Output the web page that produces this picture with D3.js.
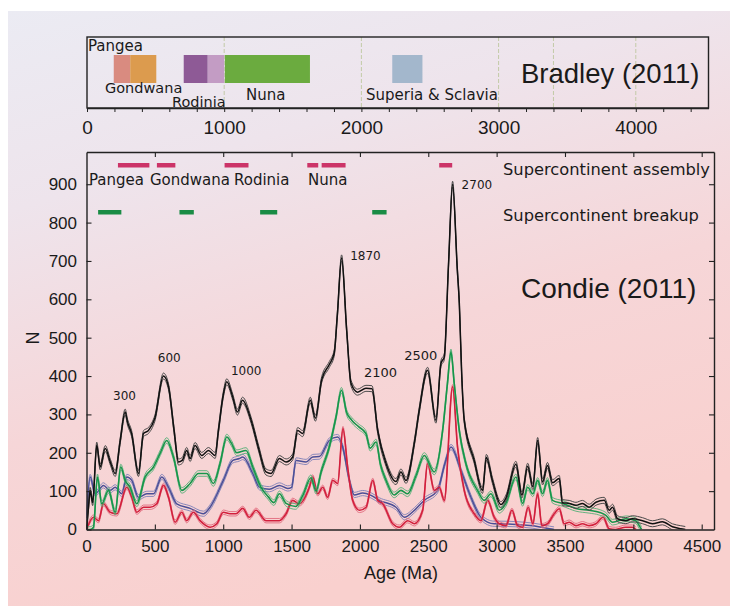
<!DOCTYPE html>
<html><head><meta charset="utf-8">
<script src="https://cdn.jsdelivr.net/npm/d3@7"></script>
<style>
html,body{margin:0;padding:0;background:#fff;}
svg{display:block;}
text{font-family:"Liberation Sans",Arial,Helvetica,sans-serif;fill:#1a1a1a;}
.wide{font-family:"DejaVu Sans",sans-serif;}
</style></head><body>
<svg id="chart" width="730" height="606"></svg>
<script>
// ---------------- DATA ----------------
const xTickValues = [0,500,1000,1500,2000,2500,3000,3500,4000,4500];
const yTickValues = [0,100,200,300,400,500,600,700,800,900];
const topTickLabels = [0,1000,2000,3000,4000];
const topGuideAges = [1000,2000,3000,3400,4000];

const bradleySegStart = [195,315,705,880,1005,2225];
const bradleySegEnd   = [315,505,880,1000,1625,2445];
const bradleyLabels = ["Pangea","Gondwana","Rodinia","Nuna","Superia & Sclavia"];

const assemblyStart = [230,515,1010,1615,1720,2580];
const assemblyEnd   = [460,650,1185,1695,1895,2675];
const breakupStart  = [85,680,1270,2090];
const breakupEnd    = [255,785,1395,2195];
const condieLabels  = ["Pangea","Gondwana","Rodinia","Nuna"];

const peakLabels = ["300","600","1000","1870","2100","2500","2700"];
const peakAges   = [300,600,1000,1870,2100,2500,2700];

// [age (Ma), N]
const totalSeries = [[0,0],[15,60],[27,102],[45,70],[75,220],[100,163],[137,211],[175,175],[210,146],[246,230],[283,306],[300,280],[330,250],[380,146],[417,250],[453,258],[500,290],[563,400],[600,372],[640,260],[673,176],[700,180],[733,206],[758,185],[794,219],[843,193],[892,206],[941,193],[965,258],[1000,350],[1026,385],[1070,345],[1104,306],[1141,337],[1204,285],[1260,210],[1313,150],[1350,146],[1411,185],[1460,176],[1508,189],[1545,258],[1581,250],[1637,337],[1674,290],[1720,390],[1776,430],[1812,460],[1835,560],[1866,708],[1903,520],[1935,381],[1983,358],[2044,368],[2088,367],[2130,258],[2191,172],[2264,125],[2300,150],[2337,128],[2400,230],[2434,311],[2495,415],[2556,285],[2593,433],[2617,450],[2648,690],[2678,900],[2712,680],[2727,590],[2745,400],[2763,285],[2836,180],[2897,102],[2925,188],[2969,128],[3031,65],[3068,82],[3141,170],[3185,90],[3227,165],[3265,112],[3300,232],[3336,124],[3372,167],[3409,122],[3458,133],[3482,70],[3531,68],[3580,63],[3628,68],[3677,58],[3726,71],[3787,76],[3823,50],[3848,58],[3884,28],[3945,23],[3993,28],[4067,23],[4140,15],[4213,20],[4286,7],[4347,2],[4380,0]];

const greenSeries = [[0,0],[27,0],[51,6],[80,137],[112,67],[161,102],[210,45],[251,163],[283,128],[319,110],[368,67],[429,137],[490,163],[540,200],[587,232],[636,189],[697,102],[758,120],[819,146],[880,146],[928,120],[977,172],[1026,241],[1060,225],[1099,200],[1167,206],[1216,163],[1277,110],[1330,85],[1370,70],[1411,93],[1460,68],[1530,60],[1581,88],[1642,135],[1679,100],[1716,150],[1776,215],[1825,293],[1865,363],[1903,305],[1940,285],[1990,268],[2044,250],[2075,212],[2118,228],[2150,170],[2191,128],[2251,90],[2300,102],[2349,93],[2410,140],[2471,193],[2544,150],[2605,258],[2640,380],[2666,463],[2690,380],[2727,258],[2775,172],[2860,102],[2909,76],[2958,93],[3019,50],[3068,68],[3141,137],[3190,68],[3227,110],[3265,93],[3300,128],[3336,93],[3372,128],[3409,76],[3482,68],[3580,55],[3677,50],[3750,45],[3799,37],[3848,19],[3945,28],[4018,23],[4043,10],[4060,0]];

const blueSeries = [[0,30],[27,137],[63,93],[124,115],[173,102],[210,110],[258,93],[295,137],[331,128],[380,84],[441,93],[490,93],[551,137],[600,110],[660,67],[758,55],[855,41],[904,58],[1001,128],[1070,180],[1118,185],[1143,189],[1216,146],[1265,110],[1338,105],[1411,115],[1472,107],[1500,110],[1533,180],[1606,176],[1655,189],[1703,190],[1776,232],[1837,241],[1874,215],[1923,128],[1959,90],[2020,95],[2081,89],[2142,76],[2264,58],[2325,32],[2398,50],[2471,76],[2568,102],[2620,170],[2666,215],[2739,154],[2812,84],[2885,32],[2982,15],[3019,15],[3265,10],[3387,2],[3420,0]];

const redSeries = [[0,0],[51,32],[88,23],[124,67],[173,45],[222,41],[295,110],[331,84],[368,45],[417,58],[465,58],[514,67],[563,115],[600,84],[648,19],[697,45],[733,23],[782,45],[831,23],[904,6],[953,15],[1001,45],[1050,41],[1094,41],[1143,55],[1191,32],[1240,50],[1313,23],[1411,23],[1460,41],[1508,76],[1557,67],[1630,110],[1655,137],[1691,93],[1728,110],[1764,84],[1801,128],[1837,120],[1876,263],[1910,163],[1947,76],[1996,50],[2045,58],[2094,128],[2130,76],[2167,67],[2240,15],[2288,6],[2349,23],[2398,15],[2459,50],[2495,172],[2544,102],[2580,110],[2617,76],[2678,372],[2714,215],[2763,102],[2836,41],[2885,23],[2934,76],[2982,32],[3019,15],[3068,10],[3112,50],[3153,10],[3190,6],[3231,58],[3265,15],[3300,93],[3331,10],[3372,15],[3421,41],[3458,54],[3494,15],[3531,19],[3580,10],[3628,15],[3677,10],[3726,15],[3779,32],[3823,2],[3870,0],[3945,6],[3993,6],[4020,0]];

// ---------------- STYLE / LAYOUT ----------------
const bradleyColors = ["#d98b80","#dc9b4e","#8e5a96","#c39cc4","#6bab3f","#a3b7cc"];
const svg = d3.select("#chart");
const defs = svg.append("defs");
const grad = defs.append("linearGradient").attr("id","bg")
  .attr("x1","0").attr("y1","0").attr("x2","0.35").attr("y2","1");
[["0","#ebebf3"],["0.3","#eee4ec"],["0.65","#f6d6d8"],["1","#f9d0ce"]].forEach(s=>
  grad.append("stop").attr("offset",s[0]).attr("stop-color",s[1]));
svg.append("rect").attr("x",8).attr("y",11).attr("width",722).attr("height",595).attr("fill","url(#bg)");

// ---------- Top panel (Bradley) ----------
const xTop = d3.scaleLinear().domain([0,4530]).range([87,708.5]);
const topY0 = 37, topY1 = 108;
const topG = svg.append("g");
topG.selectAll("line.guide").data(topGuideAges).join("line")
  .attr("x1",d=>xTop(d)).attr("x2",d=>xTop(d)).attr("y1",topY0).attr("y2",topY1)
  .attr("stroke","#bcc69c").attr("stroke-width",1).attr("stroke-dasharray","4,2").attr("opacity",0.85);
topG.selectAll("rect.seg").data(d3.range(bradleySegStart.length)).join("rect")
  .attr("x",i=>xTop(bradleySegStart[i])).attr("width",i=>xTop(bradleySegEnd[i])-xTop(bradleySegStart[i]))
  .attr("y",55).attr("height",28).attr("fill",i=>bradleyColors[i]);
topG.append("rect").attr("x",87).attr("y",topY0).attr("width",621.5).attr("height",topY1-topY0)
  .attr("fill","none").attr("stroke","#222").attr("stroke-width",1.4);
const topAxis = topG.append("g").attr("transform",`translate(0,${topY1})`)
  .call(d3.axisBottom(xTop).tickValues(d3.range(0,4401,200)).tickSize(4).tickSizeOuter(0).tickPadding(9)
    .tickFormat(d=>topTickLabels.includes(d)?String(d):""));
topAxis.select(".domain").attr("stroke","#222").attr("stroke-width",1.4);
topAxis.selectAll(".tick line").attr("stroke","#222");
topAxis.selectAll("text").style("font-size","19px").attr("fill","#1a1a1a");

const bradleyLabelPos = [[88,51],[105,93],[172,107],[246,100],[366,100]];
const bradleyLabelSize = [15,14.5,14.5,15,15];
topG.selectAll("text.bl").data(bradleyLabels).join("text").attr("class","wide")
  .attr("x",(d,i)=>bradleyLabelPos[i][0]).attr("y",(d,i)=>bradleyLabelPos[i][1])
  .style("font-size",(d,i)=>bradleyLabelSize[i]+"px").text(d=>d);
topG.append("text").attr("x",521).attr("y",83).style("font-size","27.5px").text("Bradley (2011)");

// ---------- Main panel (Condie) ----------
const x = d3.scaleLinear().domain([0,4590]).range([86.5,714]);
const y = d3.scaleLinear().domain([0,984]).range([529.5,152]);
const main = svg.append("g");
defs.append("clipPath").attr("id","clip").append("rect")
  .attr("x",x(0)).attr("y",y(984)).attr("width",x(4590)-x(0)).attr("height",y(0)-y(984));

const line = d3.line().x(d=>x(d[0])).y(d=>y(Math.max(0,d[1]))).curve(d3.curveMonotoneX);
function drawSeries(data, outer, center, off, ow, cw){
  const g = main.append("g").attr("clip-path","url(#clip)");
  [-off, off].forEach(o=> g.append("path").datum(data).attr("d",line)
     .attr("transform",`translate(0,${o})`).attr("fill","none")
     .attr("stroke",outer).attr("stroke-width",ow).attr("stroke-linejoin","round"));
  g.append("path").datum(data).attr("d",line).attr("fill","none")
    .attr("stroke",center).attr("stroke-width",cw).attr("stroke-linejoin","round");
}
drawSeries(blueSeries,"#7e80b8","#4b4f97",2.6,0.9,1.5);
drawSeries(redSeries,"#e26a7e","#d21f3c",2.2,0.9,1.6);
drawSeries(greenSeries,"#55b077","#16964a",2.8,0.9,1.6);
drawSeries(totalSeries,"#4a4a4a","#111",3,1,1.5);

// axes
const fmt = d3.format("d");
const axB = main.append("g").attr("transform",`translate(0,${y(0)})`)
  .call(d3.axisBottom(x).tickValues(xTickValues).tickSizeInner(-5).tickSizeOuter(0).tickPadding(10.5).tickFormat(fmt));
const axT = main.append("g").attr("transform",`translate(0,${y(984)})`)
  .call(d3.axisTop(x).tickValues(xTickValues.slice(1)).tickSizeInner(-5).tickSizeOuter(0).tickFormat(""));
const axL = main.append("g").attr("transform",`translate(${x(0)},0)`)
  .call(d3.axisLeft(y).tickValues(yTickValues).tickSizeInner(-5).tickSizeOuter(0).tickPadding(9.5).tickFormat(fmt));
const axR = main.append("g").attr("transform",`translate(${x(4590)},0)`)
  .call(d3.axisRight(y).tickValues(yTickValues.slice(1)).tickSizeInner(-5).tickSizeOuter(0).tickFormat(""));
[axB,axT,axL,axR].forEach(a=>{
  a.select(".domain").attr("stroke","#222").attr("stroke-width",1.4);
  a.selectAll(".tick line").attr("stroke","#222").attr("stroke-width",1.1);
  a.selectAll("text").style("font-size","17px").attr("fill","#1a1a1a");
});

// header bars
main.selectAll("rect.asm").data(d3.range(assemblyStart.length)).join("rect")
  .attr("x",i=>x(assemblyStart[i])).attr("width",i=>x(assemblyEnd[i])-x(assemblyStart[i]))
  .attr("y",163).attr("height",4.5).attr("fill","#cc3468");
main.selectAll("rect.brk").data(d3.range(breakupStart.length)).join("rect")
  .attr("x",i=>x(breakupStart[i])).attr("width",i=>x(breakupEnd[i])-x(breakupStart[i]))
  .attr("y",210).attr("height",4.5).attr("fill","#1a8c45");
const condieLabelX = [89,150,234,308];
main.selectAll("text.cl").data(condieLabels).join("text").attr("class","wide")
  .attr("x",(d,i)=>condieLabelX[i]).attr("y",185).style("font-size","15px").text(d=>d);
main.append("text").attr("class","wide").attr("x",503).attr("y",175).style("font-size","16.3px").text("Supercontinent assembly");
main.append("text").attr("class","wide").attr("x",503).attr("y",221).style("font-size","16.3px").text("Supercontinent breakup");
main.append("text").attr("x",521).attr("y",298).style("font-size","28px").text("Condie (2011)");

// peak labels
const peakLayout = [[-3,400,"middle",12],[0.7,361.5,"middle",12],[23,375,"middle",12],[8,260,"start",12],[7,376.5,"middle",13],[-7.5,360,"middle",13],[6,188.5,"start",12]];
main.selectAll("text.pk").data(peakLabels).join("text").attr("class","wide")
  .attr("x",(d,i)=>x(peakAges[i])+peakLayout[i][0]).attr("y",(d,i)=>peakLayout[i][1])
  .attr("text-anchor",(d,i)=>peakLayout[i][2]).style("font-size",(d,i)=>peakLayout[i][3]+"px")
  .attr("fill","#222").text(d=>d);

// axis titles
main.append("text").attr("x",401).attr("y",579).attr("text-anchor","middle").style("font-size","18px").text("Age (Ma)");
main.append("text").attr("transform","translate(39,338) rotate(-90)").attr("text-anchor","middle").style("font-size","18px").text("N");
</script>
</body></html>
